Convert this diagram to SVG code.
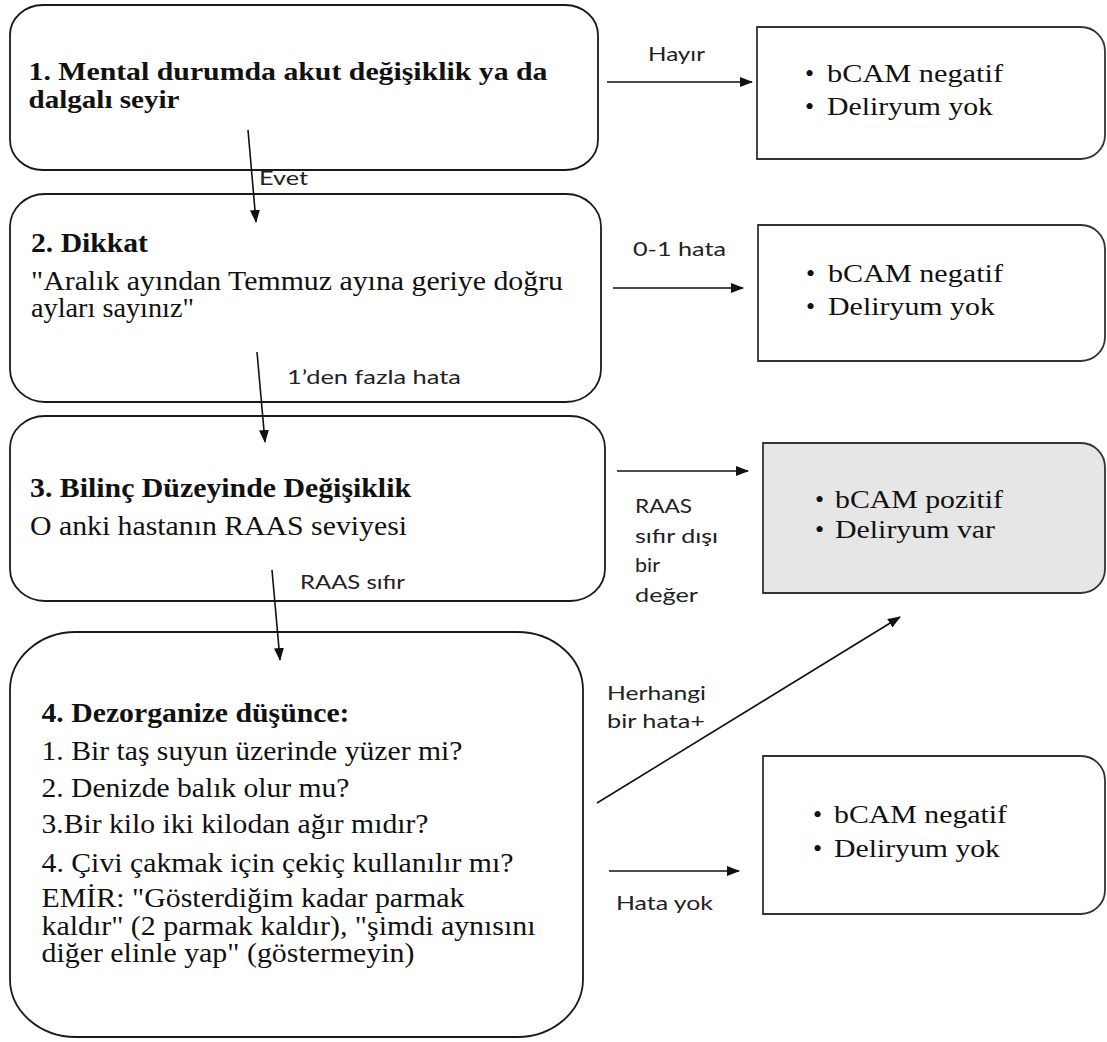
<svg xmlns="http://www.w3.org/2000/svg" width="1107" height="1042" viewBox="0 0 1107 1042">
<defs>
<marker id="ah" markerUnits="userSpaceOnUse" markerWidth="13" markerHeight="10" refX="12" refY="5" orient="auto">
<path d="M0,0 L13,5 L0,10 z" fill="#111"/>
</marker>
<style>
.box{fill:#fff;stroke:#1a1a1a;stroke-width:1.8}
.rbox{fill:#fff;stroke:#333;stroke-width:1.8}
.grey{fill:#e6e6e6}
.t{font-family:"Liberation Serif","Times New Roman",serif;font-size:27px;fill:#111}
.s{font-family:"Liberation Serif","Times New Roman",serif;font-size:26px;fill:#111}
.b{font-weight:bold}
.tight{font-size:25px}
.lbl{font-family:Lato,"Open Sans",sans-serif;font-size:19px;fill:#222}
.c{stroke:#111;stroke-width:1.6;fill:none;marker-end:url(#ah)}
</style>
</defs>
<rect width="1107" height="1042" fill="#fff"/>

<g id="node1">
<rect class="box" x="10" y="5" width="588" height="165" rx="33" ry="30"/>
<text class="t b tight" x="28.5" y="80" textLength="519" lengthAdjust="spacingAndGlyphs">1. Mental durumda akut değişiklik ya da</text>
<text class="t b tight" x="28.5" y="108" textLength="151" lengthAdjust="spacingAndGlyphs">dalgalı seyir</text>
</g>

<g id="node2">
<rect class="box" x="10" y="194" width="591" height="208" rx="35" ry="33"/>
<text class="t b" x="31" y="252" textLength="117" lengthAdjust="spacingAndGlyphs">2. Dikkat</text>
<text class="t" x="31" y="290" textLength="532" lengthAdjust="spacingAndGlyphs">"Aralık ayından Temmuz ayına geriye doğru</text>
<text class="t" x="31" y="317" textLength="163" lengthAdjust="spacingAndGlyphs">ayları sayınız"</text>
</g>

<g id="node3">
<rect class="box" x="10" y="416" width="595" height="185" rx="35" ry="32"/>
<text class="t b" x="30" y="497" textLength="381" lengthAdjust="spacingAndGlyphs">3. Bilinç Düzeyinde Değişiklik</text>
<text class="t" x="30" y="535" textLength="377" lengthAdjust="spacingAndGlyphs">O anki hastanın RAAS seviyesi</text>
</g>

<g id="node4">
<rect class="box" x="10" y="632" width="573" height="405" rx="66" ry="58"/>
<text class="t b" x="41.5" y="722" textLength="308" lengthAdjust="spacingAndGlyphs">4. Dezorganize düşünce:</text>
<text class="t" x="41.5" y="760" textLength="421" lengthAdjust="spacingAndGlyphs">1. Bir taş suyun üzerinde yüzer mi?</text>
<text class="t" x="41.5" y="797" textLength="308" lengthAdjust="spacingAndGlyphs">2. Denizde balık olur mu?</text>
<text class="t" x="41.5" y="833" textLength="387" lengthAdjust="spacingAndGlyphs">3.Bir kilo iki kilodan ağır mıdır?</text>
<text class="t" x="41.5" y="872" textLength="472" lengthAdjust="spacingAndGlyphs">4. Çivi çakmak için çekiç kullanılır mı?</text>
<text class="t" x="41.5" y="907" textLength="423" lengthAdjust="spacingAndGlyphs">EMİR: "Gösterdiğim kadar parmak</text>
<text class="t" x="41.5" y="935" textLength="494" lengthAdjust="spacingAndGlyphs">kaldır" (2 parmak kaldır), "şimdi aynısını</text>
<text class="t" x="41.5" y="962" textLength="373" lengthAdjust="spacingAndGlyphs">diğer elinle yap" (göstermeyin)</text>
</g>

<g id="result1">
<path class="rbox" d="M757,27 H1081 A24,24 0 0 1 1105,51 V135 A24,24 0 0 1 1081,159 H757 Z"/>
<text class="s" x="805" y="82">•</text>
<text class="s" x="827" y="82" textLength="176" lengthAdjust="spacingAndGlyphs">bCAM negatif</text>
<text class="s" x="805" y="115">•</text>
<text class="s" x="827" y="115" textLength="166" lengthAdjust="spacingAndGlyphs">Deliryum yok</text>
</g>

<g id="result2">
<path class="rbox" d="M758,225 H1081 A24,24 0 0 1 1105,249 V337 A24,24 0 0 1 1081,361 H758 Z"/>
<text class="s" x="806" y="282">•</text>
<text class="s" x="828" y="282" textLength="175" lengthAdjust="spacingAndGlyphs">bCAM negatif</text>
<text class="s" x="806" y="315">•</text>
<text class="s" x="828" y="315" textLength="167" lengthAdjust="spacingAndGlyphs">Deliryum yok</text>
</g>

<g id="result3">
<path class="rbox grey" d="M763,443 H1081 A24,24 0 0 1 1105,467 V569 A24,24 0 0 1 1081,593 H763 Z"/>
<text class="s" x="815" y="508">•</text>
<text class="s" x="835" y="508" textLength="168" lengthAdjust="spacingAndGlyphs">bCAM pozitif</text>
<text class="s" x="815" y="538">•</text>
<text class="s" x="835" y="538" textLength="160" lengthAdjust="spacingAndGlyphs">Deliryum var</text>
</g>

<g id="result4">
<path class="rbox" d="M763,756 H1081 A24,24 0 0 1 1105,780 V890 A24,24 0 0 1 1081,914 H763 Z"/>
<text class="s" x="813" y="823">•</text>
<text class="s" x="834" y="823" textLength="173" lengthAdjust="spacingAndGlyphs">bCAM negatif</text>
<text class="s" x="813" y="857">•</text>
<text class="s" x="834" y="857" textLength="166" lengthAdjust="spacingAndGlyphs">Deliryum yok</text>
</g>

<g id="connectors">
<line class="c" x1="248" y1="130" x2="256" y2="222"/>
<line class="c" x1="257" y1="352" x2="265" y2="442"/>
<line class="c" x1="272" y1="570" x2="280" y2="660"/>
<line class="c" x1="607" y1="82" x2="752" y2="82"/>
<line class="c" x1="613" y1="288" x2="743" y2="288"/>
<line class="c" x1="617" y1="471" x2="748" y2="471"/>
<line class="c" x1="597" y1="803" x2="900" y2="617"/>
<line class="c" x1="609" y1="871" x2="739" y2="871"/>
<text class="lbl" x="259" y="185" textLength="49" lengthAdjust="spacingAndGlyphs">Evet</text>
<text class="lbl" x="648" y="61" textLength="57" lengthAdjust="spacingAndGlyphs">Hayır</text>
<text class="lbl" x="633" y="256" textLength="93" lengthAdjust="spacingAndGlyphs">0-1 hata</text>
<text class="lbl" x="287" y="384" textLength="174" lengthAdjust="spacingAndGlyphs">1’den fazla hata</text>
<text class="lbl" x="635" y="513" textLength="57" lengthAdjust="spacingAndGlyphs">RAAS</text>
<text class="lbl" x="635" y="543" textLength="83" lengthAdjust="spacingAndGlyphs">sıfır dışı</text>
<text class="lbl" x="635" y="572" textLength="25" lengthAdjust="spacingAndGlyphs">bir</text>
<text class="lbl" x="635" y="602" textLength="63" lengthAdjust="spacingAndGlyphs">değer</text>
<text class="lbl" x="300" y="589" textLength="105" lengthAdjust="spacingAndGlyphs">RAAS sıfır</text>
<text class="lbl" x="607" y="700" textLength="99" lengthAdjust="spacingAndGlyphs">Herhangi</text>
<text class="lbl" x="607" y="728" textLength="98" lengthAdjust="spacingAndGlyphs">bir hata+</text>
<text class="lbl" x="616" y="910" textLength="97" lengthAdjust="spacingAndGlyphs">Hata yok</text>
</g>
</svg>
